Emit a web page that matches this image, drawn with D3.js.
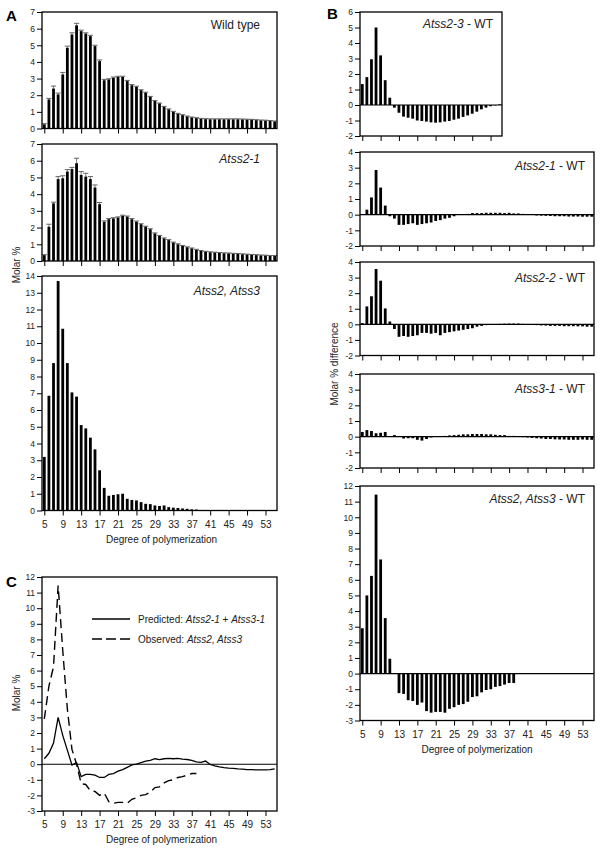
<!DOCTYPE html>
<html>
<head>
<meta charset="utf-8">
<script src="https://cdn.jsdelivr.net/npm/d3@7"></script>
<style>
  body { margin: 0; background: #fff; }
  svg { display: block; font-family: "Liberation Sans", Arial, sans-serif; }
</style>
</head>
<body>
<svg id="chart" width="600" height="849"></svg>
<script>
// degree of polymerization (DP) categories and tick labels
const dpValues = [5,6,7,8,9,10,11,12,13,14,15,16,17,18,19,20,21,22,23,24,25,26,27,28,29,30,
                  31,32,33,34,35,36,37,38,39,40,41,42,43,44,45,46,47,48,49,50,51,52,53,54,55];
const dpTicks = [5,9,13,17,21,25,29,33,37,41,45,49,53];

// A: molar % (wild type, Atss2-1 with error bars, Atss2 Atss3)
const wildType = [0.25,1.75,2.4,2.05,3.25,4.85,5.65,6.2,5.85,5.7,5.55,
                  4.95,4.05,2.9,2.95,3.05,3.1,3.1,2.85,2.6,2.5,
                  2.3,2.15,1.9,1.65,1.5,1.3,1.15,1.0,0.88,0.8,
                  0.72,0.66,0.62,0.58,0.56,0.55,0.55,0.55,0.55,0.55,
                  0.55,0.55,0.54,0.53,0.52,0.5,0.48,0.47,0.45,0.42];
const wildTypeErr = [0.04,0.06,0.15,0.08,0.12,0.1,0.1,0.12,0.06,0.05,0.05,
                     0.05,0.07,0.05,0.04,0.04,0.04,0.04,0.04,0.04,0.04,
                     0.03,0.03,0.03,0.03,0.03,0.03,0.03,0.03,0.03,0.03,
                     0.03,0.03,0.03,0.03,0.03,0.03,0.03,0.03,0.03,0.03,
                     0.03,0.03,0.03,0.03,0.03,0.03,0.03,0.03,0.03,0.03];
const atss21 = [0.35,2.05,3.45,4.9,4.95,5.35,5.5,5.85,5.15,5.05,4.9,
                4.4,3.4,2.35,2.5,2.55,2.6,2.7,2.65,2.5,2.35,
                2.2,2.05,1.9,1.65,1.5,1.35,1.25,1.1,1.0,0.9,
                0.82,0.75,0.67,0.6,0.55,0.52,0.5,0.48,0.46,0.45,
                0.43,0.42,0.4,0.38,0.36,0.35,0.33,0.32,0.3,0.3];
const atss21Err = [0.03,0.15,0.07,0.15,0.15,0.12,0.1,0.3,0.2,0.2,0.15,
                   0.15,0.1,0.05,0.04,0.04,0.04,0.04,0.04,0.04,0.04,
                   0.03,0.03,0.03,0.03,0.03,0.03,0.03,0.03,0.03,0.03,
                   0.03,0.03,0.03,0.03,0.03,0.03,0.03,0.03,0.03,0.03,
                   0.03,0.03,0.03,0.03,0.03,0.03,0.03,0.03,0.03,0.03];
const atss2atss3 = [3.2,6.85,8.8,13.7,10.85,8.8,7.05,6.8,5.1,4.9,4.35,3.65,2.4,
                    1.35,0.88,0.93,0.97,1.0,0.7,0.63,0.6,0.5,0.4,0.38,0.3,0.27,0.3,
                    0.2,0.17,0.15,0.12,0.1,0.07,0.06];

// B: molar % difference from wild type
const diff23 = [1.35,1.8,2.95,5.0,3.2,1.6,0.47,-0.17,-0.5,-0.75,-0.82,
                -0.88,-1.0,-1.03,-1.07,-1.12,-1.14,-1.12,-1.07,-1.03,-0.95,
                -0.88,-0.77,-0.67,-0.56,-0.43,-0.28,-0.17,-0.08,-0.03,0.04];
const diff21 = [0.03,0.32,1.1,2.85,1.73,0.58,-0.1,-0.25,-0.65,-0.65,-0.6,
                -0.55,-0.65,-0.6,-0.55,-0.5,-0.4,-0.35,-0.25,-0.2,-0.1,
                0,0.02,0.05,0.1,0.1,0.1,0.12,0.12,0.12,0.12,
                0.1,0.12,0.08,0.08,0.05,0,-0.02,-0.05,-0.06,-0.07,
                -0.08,-0.1,-0.1,-0.1,-0.12,-0.12,-0.12,-0.13,-0.13,-0.13];
const diff22 = [0.08,1.15,1.8,3.55,2.8,1.02,0.18,-0.3,-0.8,-0.75,-0.8,
                -0.75,-0.7,-0.55,-0.55,-0.6,-0.55,-0.7,-0.55,-0.5,-0.45,
                -0.4,-0.35,-0.3,-0.25,-0.15,-0.1,-0.05,-0.02,0.02,0.03,
                0.04,0.05,0.05,0.05,0.03,0,-0.03,-0.05,-0.07,-0.08,
                -0.1,-0.1,-0.1,-0.12,-0.12,-0.12,-0.13,-0.13,-0.15,-0.15];
const diff31 = [0.3,0.42,0.36,0.22,0.25,0.3,0.0,0.1,0.0,-0.12,-0.1,
                -0.1,-0.2,-0.25,-0.15,-0.05,0.0,0.02,0.05,0.08,0.1,
                0.12,0.15,0.15,0.17,0.17,0.17,0.15,0.15,0.12,0.1,
                0.1,0.05,0.05,0,-0.03,-0.05,-0.08,-0.1,-0.12,-0.15,
                -0.15,-0.17,-0.18,-0.18,-0.2,-0.2,-0.2,-0.18,-0.2,-0.2];
const diffDouble = [2.9,5.0,6.25,11.45,7.3,3.55,0.95,0.0,-1.25,-1.3,-1.7,-1.75,-2.0,-1.85,
                    -2.4,-2.5,-2.45,-2.45,-2.5,-2.25,-2.15,-2.0,-1.95,-1.8,-1.5,-1.45,
                    -1.2,-1.05,-1.0,-0.85,-0.8,-0.7,-0.6,-0.6];

// C: predicted (Atss2-1 + Atss3-1) vs observed (Atss2, Atss3)
const predicted = [0.35,0.7,1.35,3.0,1.85,0.9,-0.05,0.1,-0.8,-0.65,-0.65,
                   -0.7,-0.85,-0.85,-0.65,-0.6,-0.45,-0.35,-0.2,-0.05,0,
                   0.1,0.2,0.25,0.35,0.3,0.35,0.37,0.35,0.37,0.32,
                   0.3,0.25,0.15,0.12,0.2,-0.02,-0.1,-0.17,-0.22,-0.25,
                   -0.27,-0.3,-0.32,-0.35,-0.35,-0.37,-0.37,-0.37,-0.35,-0.3];

const svg = d3.select('#chart');
const textColor = '#222';

// one framed panel with its own scales and axes
function makePanel(p) {
    const x = d3.scaleLinear().domain([4.5, p.xMax]).range([p.left, p.right]);
    const y = d3.scaleLinear().domain(p.yDomain).range([p.bottom, p.top]);
    const g = svg.append('g');

    // y axis
    const yAxis = g.append('g')
        .attr('transform', `translate(${p.left},0)`)
        .call(d3.axisLeft(y).tickValues(p.yTicks).tickSize(5).tickPadding(2).tickFormat(d => String(d)));
    yAxis.select('.domain').remove();
    yAxis.selectAll('text').attr('font-size', 8.5).attr('fill', textColor).attr('font-family', null);
    yAxis.selectAll('line').attr('stroke', '#000');

    // x axis (ticks only, labels on bottom panels)
    const xAxis = g.append('g')
        .attr('transform', `translate(0,${p.bottom})`)
        .call(d3.axisBottom(x).tickValues(dpTicks.filter(t => t <= p.xMax))
            .tickSize(5).tickPadding(5)
            .tickFormat(p.xLabels ? d => String(d) : ''));
    xAxis.select('.domain').remove();
    xAxis.selectAll('text').attr('font-size', 10).attr('fill', textColor).attr('font-family', null);
    xAxis.selectAll('line').attr('stroke', '#000');

    if (p.xLabels) {
        g.append('text')
            .attr('x', (p.left + p.right) / 2 + (p.xTitleShift || 0))
            .attr('y', p.bottom + 32)
            .attr('text-anchor', 'middle')
            .attr('font-size', 10)
            .attr('fill', textColor)
            .text('Degree of polymerization');
    }

    return { x, y, g };
}

function drawFrame(p, sc) {
    if (p.yDomain[0] < 0) {
        sc.g.append('line')
            .attr('x1', p.left).attr('x2', p.right)
            .attr('y1', sc.y(0)).attr('y2', sc.y(0))
            .attr('stroke', '#000').attr('stroke-width', 1.1);
    }
    sc.g.append('rect')
        .attr('x', p.left).attr('y', p.top)
        .attr('width', p.right - p.left).attr('height', p.bottom - p.top)
        .attr('fill', 'none').attr('stroke', '#000').attr('stroke-width', 1.3);
}

function drawTitle(p) {
    const t = svg.append('text')
        .attr('x', p.right - p.titlePad)
        .attr('y', p.top + p.titleDy)
        .attr('text-anchor', 'end')
        .attr('font-size', 12)
        .attr('fill', textColor);
    p.title.forEach(part => {
        t.append('tspan').attr('font-style', part[1] ? 'italic' : 'normal').text(part[0]);
    });
}

function barPanel(p) {
    const sc = makePanel(p);
    const bw = 2.8;
    const rows = p.values.map((v, i) => ({ dp: dpValues[i], v: v, e: p.errors ? p.errors[i] : 0 }));

    if (p.errors) {
        sc.g.selectAll('.err').data(rows).enter().append('line')
            .attr('x1', d => sc.x(d.dp)).attr('x2', d => sc.x(d.dp))
            .attr('y1', d => sc.y(d.v)).attr('y2', d => sc.y(d.v + d.e))
            .attr('stroke', '#555').attr('stroke-width', 0.8);
        sc.g.selectAll('.cap').data(rows).enter().append('line')
            .attr('x1', d => sc.x(d.dp) - 2.6).attr('x2', d => sc.x(d.dp) + 2.6)
            .attr('y1', d => sc.y(d.v + d.e)).attr('y2', d => sc.y(d.v + d.e))
            .attr('stroke', '#555').attr('stroke-width', 0.9);
    }

    sc.g.selectAll('.bar').data(rows).enter().append('rect')
        .attr('x', d => sc.x(d.dp) - bw / 2)
        .attr('y', d => sc.y(Math.max(d.v, 0)))
        .attr('width', bw)
        .attr('height', d => Math.abs(sc.y(d.v) - sc.y(0)))
        .attr('fill', '#000');

    drawFrame(p, sc);
    drawTitle(p);
}

// ---------- Panel A ----------
const aLeft = 42, aRight = 277;
barPanel({ left: aLeft, right: aRight, top: 12, bottom: 128.5, xMax: 55.5,
    yDomain: [0, 7], yTicks: [0,1,2,3,4,5,6,7], values: wildType, errors: wildTypeErr,
    title: [['Wild type', false]], titlePad: 17, titleDy: 17 });
barPanel({ left: aLeft, right: aRight, top: 144, bottom: 261, xMax: 55.5,
    yDomain: [0, 7], yTicks: [0,1,2,3,4,5,6,7], values: atss21, errors: atss21Err,
    title: [['Atss2-1', true]], titlePad: 17, titleDy: 19 });
barPanel({ left: aLeft, right: aRight, top: 276, bottom: 510.5, xMax: 55.5, xLabels: true, xTitleShift: 2,
    yDomain: [0, 14], yTicks: d3.range(0, 15), values: atss2atss3,
    title: [['Atss2, Atss3', true]], titlePad: 17, titleDy: 19 });

// ---------- Panel B ----------
const bLeft = 360, bRight = 594;
barPanel({ left: bLeft, right: 502, top: 12, bottom: 136, xMax: 35.5,
    yDomain: [-2, 6], yTicks: [-2,-1,0,1,2,3,4,5,6], values: diff23,
    title: [['Atss2-3', true], [' - WT', false]], titlePad: 9, titleDy: 16 });
barPanel({ left: bLeft, right: bRight, top: 152, bottom: 246, xMax: 55.5,
    yDomain: [-2, 4], yTicks: [-2,-1,0,1,2,3,4], values: diff21,
    title: [['Atss2-1', true], [' - WT', false]], titlePad: 9, titleDy: 18 });
barPanel({ left: bLeft, right: bRight, top: 262, bottom: 355.5, xMax: 55.5,
    yDomain: [-2, 4], yTicks: [-2,-1,0,1,2,3,4], values: diff22,
    title: [['Atss2-2', true], [' - WT', false]], titlePad: 9, titleDy: 20 });
barPanel({ left: bLeft, right: bRight, top: 374, bottom: 468, xMax: 55.5,
    yDomain: [-2, 4], yTicks: [-2,-1,0,1,2,3,4], values: diff31,
    title: [['Atss3-1', true], [' - WT', false]], titlePad: 9, titleDy: 19 });
barPanel({ left: bLeft, right: bRight, top: 486, bottom: 720.5, xMax: 55.5, xLabels: true,
    yDomain: [-3, 12], yTicks: d3.range(-3, 13), values: diffDouble,
    title: [['Atss2, Atss3', true], [' - WT', false]], titlePad: 9, titleDy: 17 });

// ---------- Panel C ----------
const pc = { left: aLeft, right: aRight, top: 577, bottom: 811, xMax: 55.5, xLabels: true, xTitleShift: 2,
    yDomain: [-3, 12], yTicks: d3.range(-3, 13) };
const scC = makePanel(pc);
const line = d3.line().x((d, i) => scC.x(dpValues[i])).y(d => scC.y(d));
scC.g.append('path').datum(predicted).attr('d', line)
    .attr('fill', 'none').attr('stroke', '#000').attr('stroke-width', 1.3);
scC.g.append('path').datum(diffDouble).attr('d', line)
    .attr('fill', 'none').attr('stroke', '#000').attr('stroke-width', 1.4)
    .attr('stroke-dasharray', '9,5');
drawFrame(pc, scC);

// legend for C
const legend = svg.append('g').attr('font-size', 10).attr('fill', textColor);
legend.append('line').attr('x1', 92).attr('x2', 130).attr('y1', 619).attr('y2', 619)
    .attr('stroke', '#000').attr('stroke-width', 1.3);
legend.append('line').attr('x1', 92).attr('x2', 130).attr('y1', 639).attr('y2', 639)
    .attr('stroke', '#000').attr('stroke-width', 1.4).attr('stroke-dasharray', '10,4');
const l1 = legend.append('text').attr('x', 138).attr('y', 622.5);
l1.append('tspan').text('Predicted: ');
l1.append('tspan').attr('font-style', 'italic').text('Atss2-1');
l1.append('tspan').text(' + ');
l1.append('tspan').attr('font-style', 'italic').text('Atss3-1');
const l2 = legend.append('text').attr('x', 138).attr('y', 642.5);
l2.append('tspan').text('Observed: ');
l2.append('tspan').attr('font-style', 'italic').text('Atss2, Atss3');

// axis titles
svg.append('text').attr('transform', 'translate(20,265) rotate(-90)')
    .attr('text-anchor', 'middle').attr('font-size', 10).attr('fill', textColor).text('Molar %');
svg.append('text').attr('transform', 'translate(338,364) rotate(-90)')
    .attr('text-anchor', 'middle').attr('font-size', 10).attr('fill', textColor).text('Molar % difference');
svg.append('text').attr('transform', 'translate(20,693) rotate(-90)')
    .attr('text-anchor', 'middle').attr('font-size', 10).attr('fill', textColor).text('Molar %');

// panel letters
svg.append('text').attr('x', 6).attr('y', 21).attr('font-size', 15).attr('font-weight', 'bold').text('A');
svg.append('text').attr('x', 327).attr('y', 19).attr('font-size', 15).attr('font-weight', 'bold').text('B');
svg.append('text').attr('x', 6).attr('y', 587).attr('font-size', 15).attr('font-weight', 'bold').text('C');
</script>
</body>
</html>
